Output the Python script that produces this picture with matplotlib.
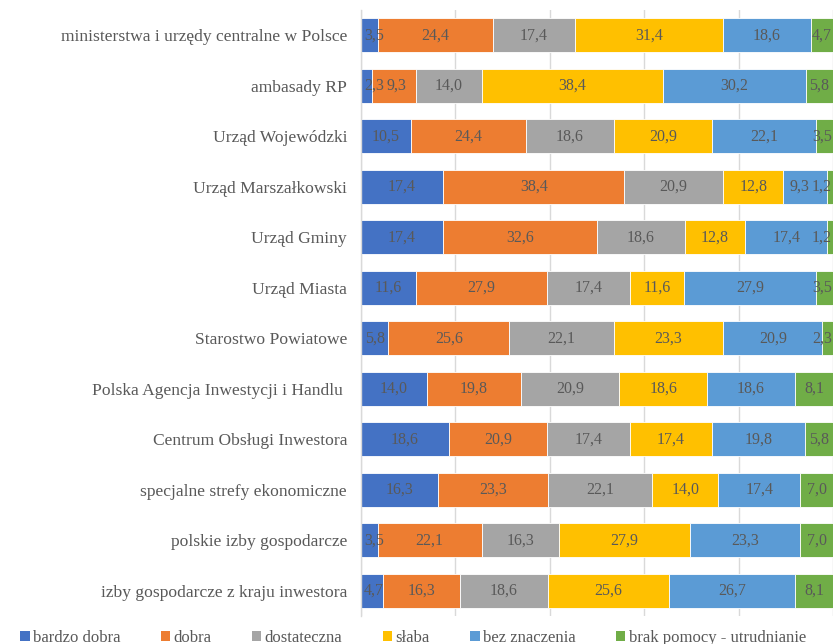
import matplotlib
matplotlib.use("Agg")
import matplotlib.pyplot as plt
from matplotlib.patches import Patch
import numpy as np

categories = [
    "ministerstwa i urzędy centralne w Polsce",
    "ambasady RP",
    "Urząd Wojewódzki",
    "Urząd Marszałkowski",
    "Urząd Gminy",
    "Urząd Miasta",
    "Starostwo Powiatowe",
    "Polska Agencja Inwestycji i Handlu ",
    "Centrum Obsługi Inwestora",
    "specjalne strefy ekonomiczne",
    "polskie izby gospodarcze",
    "izby gospodarcze z kraju inwestora",
]
series_names = ["bardzo dobra", "dobra", "dostateczna", "słaba",
                "bez znaczenia", "brak pomocy - utrudnianie"]
bardzo_dobra = [3.5, 2.3, 10.5, 17.4, 17.4, 11.6, 5.8, 14.0, 18.6, 16.3, 3.5, 4.7]
dobra        = [24.4, 9.3, 24.4, 38.4, 32.6, 27.9, 25.6, 19.8, 20.9, 23.3, 22.1, 16.3]
dostateczna  = [17.4, 14.0, 18.6, 20.9, 18.6, 17.4, 22.1, 20.9, 17.4, 22.1, 16.3, 18.6]
slaba        = [31.4, 38.4, 20.9, 12.8, 12.8, 11.6, 23.3, 18.6, 17.4, 14.0, 27.9, 25.6]
bez_znaczenia = [18.6, 30.2, 22.1, 9.3, 17.4, 27.9, 20.9, 18.6, 19.8, 17.4, 23.3, 26.7]
brak_pomocy  = [4.7, 5.8, 3.5, 1.2, 1.2, 3.5, 2.3, 8.1, 5.8, 7.0, 7.0, 8.1]

series = [bardzo_dobra, dobra, dostateczna, slaba, bez_znaczenia, brak_pomocy]
colors = ["#4472C4", "#ED7D31", "#A5A5A5", "#FFC000", "#5B9BD5", "#70AD47"]

W, H = 833, 644
fig = plt.figure(figsize=(W / 100, H / 100), dpi=100)
ax = fig.add_axes([361 / W, 1 - 616 / H, 1 - 361 / W, 606 / H])

FONT = "Liberation Serif"
TXT = "#595959"

y = np.arange(len(categories))
left = np.zeros(len(categories))
rows = [[] for _ in categories]
for vals, name, col in zip(series, series_names, colors):
    vals = np.array(vals)
    ax.barh(y, vals, left=left, height=0.67, color=col, edgecolor="white",
            linewidth=0.6, label=name, zorder=2)
    for yi, (l, v) in enumerate(zip(left, vals)):
        t = ax.text(l + v / 2, yi, f"{v:.1f}".replace(".", ","), ha="center",
                    va="center", fontsize=11.5, color=TXT, family=FONT, zorder=3)
        rows[yi].append(t)
    left = left + vals

ax.set_xlim(0, 100)
ax.set_ylim(len(categories) - 0.5, -0.5)
ax.set_xticks([0, 20, 40, 60, 80, 100])
ax.xaxis.grid(True, color="#D9D9D9", linewidth=1.0, zorder=0)
ax.set_axisbelow(True)
ax.tick_params(axis="x", length=0, labelbottom=False)
ax.tick_params(axis="y", length=0, pad=10)
ax.set_yticks(y)
ax.set_yticklabels(categories, fontsize=12.6, color=TXT, family=FONT)
for s in ["top", "right", "bottom"]:
    ax.spines[s].set_visible(False)
ax.spines["left"].set_color("#D9D9D9")
ax.spines["left"].set_linewidth(1.0)

# keep data labels inside the plot area and apart from each other
fig.canvas.draw()
renderer = fig.canvas.get_renderer()
axbox = ax.get_window_extent(renderer)
inv = ax.transData.inverted()


def move(t, dx):
    x, yy = t.get_position()
    xd = ax.transData.transform((x, yy))
    t.set_x(inv.transform((xd[0] + dx, xd[1]))[0])


gap = 3
for row in rows:
    # left-to-right: clamp to left edge, avoid overlap
    prev_right = axbox.x0 + 3 - gap
    for t in row:
        bb = t.get_window_extent(renderer)
        if bb.x0 < prev_right + gap:
            move(t, prev_right + gap - bb.x0)
            bb = t.get_window_extent(renderer)
        prev_right = bb.x1
    # right-to-left: clamp to right edge, avoid overlap
    next_left = axbox.x1 - 1 + gap
    for t in reversed(row):
        bb = t.get_window_extent(renderer)
        if bb.x1 > next_left - gap:
            move(t, next_left - gap - bb.x1)
            bb = t.get_window_extent(renderer)
        next_left = bb.x0

handles = [Patch(facecolor=c, edgecolor="none") for c in colors]
fig.legend(handles, series_names, loc="center", bbox_to_anchor=(0.496, 1 - 638 / H),
           ncol=6, frameon=False, handlelength=0.55, handleheight=0.55,
           handletextpad=0.2, columnspacing=2.44, borderpad=0,
           prop={"family": FONT, "size": 12}, labelcolor=TXT)

fig.savefig("out.png", dpi=100)
